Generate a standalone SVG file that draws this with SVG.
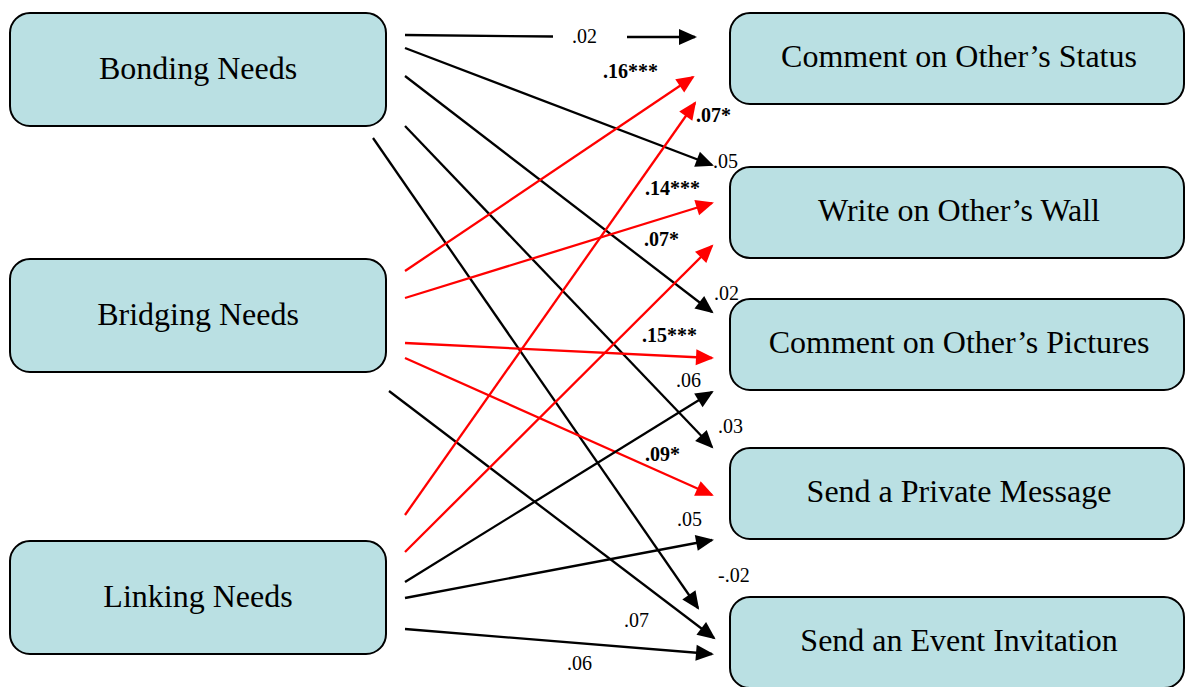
<svg xmlns="http://www.w3.org/2000/svg" width="1185" height="687" viewBox="0 0 1185 687">
<style>
.box{fill:#BAE0E3;stroke:#000;stroke-width:2}
.nt{font-family:"Liberation Serif","Times New Roman",serif;font-size:32px;fill:#000;text-anchor:middle}
.lb{font-family:"Liberation Serif","Times New Roman",serif;font-size:20px;fill:#000}
.b{font-weight:bold}
.k{stroke:#000;stroke-width:2.3;fill:none}
.r{stroke:#FF0000;stroke-width:2.3;fill:none}
.k.a{marker-end:url(#ak)}
.r.a{marker-end:url(#ar)}
</style>
<defs>
<marker id="ak" markerUnits="userSpaceOnUse" markerWidth="20" markerHeight="18" refX="16" refY="8" orient="auto" viewBox="0 0 20 18" overflow="visible">
<path d="M0,0 L18,8 L0,16 Z" fill="#000"/>
</marker>
<marker id="ar" markerUnits="userSpaceOnUse" markerWidth="20" markerHeight="18" refX="16" refY="8" orient="auto" viewBox="0 0 20 18" overflow="visible">
<path d="M0,0 L18,8 L0,16 Z" fill="#FF0000"/>
</marker>
</defs>
<rect width="1185" height="687" fill="#fff"/>

<g id="bonding"><rect class="box" x="10" y="13" width="376" height="113" rx="20"/><text class="nt" x="198" y="79">Bonding Needs</text></g>
<g id="bridging"><rect class="box" x="10" y="259" width="376" height="113" rx="20"/><text class="nt" x="198" y="325">Bridging Needs</text></g>
<g id="linking"><rect class="box" x="10" y="541" width="376" height="113" rx="20"/><text class="nt" x="198" y="607">Linking Needs</text></g>

<g id="status"><rect class="box" x="730" y="13" width="454" height="91" rx="20"/><text class="nt" x="959" y="67">Comment on Other’s Status</text></g>
<g id="wall"><rect class="box" x="730" y="167" width="454" height="91" rx="20"/><text class="nt" x="959" y="221">Write on Other’s Wall</text></g>
<g id="pictures"><rect class="box" x="730" y="299" width="454" height="91" rx="20"/><text class="nt" x="959" y="353">Comment on Other’s Pictures</text></g>
<g id="message"><rect class="box" x="730" y="448" width="454" height="91" rx="20"/><text class="nt" x="959" y="502">Send a Private Message</text></g>
<g id="event"><rect class="box" x="730" y="597" width="454" height="91" rx="20"/><text class="nt" x="959" y="651">Send an Event Invitation</text></g>

<g id="connectors">
<line class="k" x1="405" y1="35" x2="553" y2="36.5"/>
<line class="k a" x1="627" y1="37" x2="695" y2="37"/>
<line class="k a" x1="405" y1="48" x2="712" y2="165"/>
<line class="k a" x1="405" y1="76" x2="712" y2="312"/>
<line class="k a" x1="405" y1="126" x2="712" y2="447"/>
<line class="k a" x1="373" y1="138" x2="698" y2="608"/>

<line class="r a" x1="405" y1="271" x2="693" y2="77"/>
<line class="r a" x1="405" y1="298" x2="712" y2="203"/>
<line class="r a" x1="405" y1="343" x2="712" y2="358"/>
<line class="r a" x1="405" y1="358" x2="712" y2="495"/>
<line class="k a" x1="389" y1="391" x2="714" y2="638"/>

<line class="r a" x1="405" y1="515" x2="695" y2="103"/>
<line class="r a" x1="405" y1="552" x2="712" y2="246"/>
<line class="k a" x1="405" y1="582" x2="712" y2="392"/>
<line class="k a" x1="405" y1="598" x2="712" y2="540"/>
<line class="k a" x1="405" y1="629" x2="712" y2="654"/>
</g>

<g id="labels">
<text class="lb" x="572" y="43">.02</text>
<text class="lb b" x="603" y="78">.16***</text>
<text class="lb b" x="696" y="122">.07*</text>
<text class="lb" x="713" y="168">.05</text>
<text class="lb b" x="645" y="195">.14***</text>
<text class="lb b" x="644" y="246">.07*</text>
<text class="lb" x="714" y="300">.02</text>
<text class="lb b" x="642" y="342">.15***</text>
<text class="lb" x="676" y="387">.06</text>
<text class="lb" x="718" y="433">.03</text>
<text class="lb b" x="645" y="461">.09*</text>
<text class="lb" x="677" y="526">.05</text>
<text class="lb" x="718" y="582">-.02</text>
<text class="lb" x="624" y="627">.07</text>
<text class="lb" x="567" y="670">.06</text>
</g>
</svg>
